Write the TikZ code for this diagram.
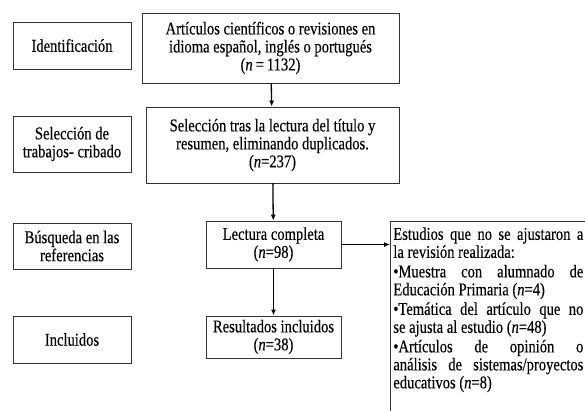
\documentclass[tikz,border=0pt]{standalone}
\usepackage{fontspec}
\setmainfont{Liberation Serif}[FakeStretch=0.81,FakeBold=0.3]
\usetikzlibrary{arrows.meta}
\setlength{\parindent}{0pt}

\begin{document}
\begin{tikzpicture}[x=1pt,y=-1pt,
  font=\fontsize{18}{18}\selectfont,
  box/.style={draw=black!80,line width=0.7pt,inner sep=0pt,align=center},
  flecha/.style={-{Latex[length=6pt,width=5pt]},line width=1.3pt}]
\useasboundingbox (0,0) rectangle (585,410);

% fases
\node (id) at (72,45.5) [box,minimum width=118,minimum height=47]{Identificación};
\node (cr) at (72,144) [box,minimum width=118,minimum height=56]{Selección de\\trabajos- cribado};
\node (bq) at (72,246) [box,minimum width=118,minimum height=46]{Búsqueda en las\\referencias};
\node (in) at (72,339.5) [box,minimum width=118,minimum height=47]{Incluidos};

% flujo
\node (n1) at (270.5,48) [box,minimum width=257,minimum height=70]{Artículos científicos o revisiones en\\idioma español, inglés o portugués\\(\textit{n}\,=\,1132)};
\node (n2) at (272.5,145) [box,minimum width=253,minimum height=76]{Selección tras la lectura del título y\\resumen, eliminando duplicados.\\(\textit{n}=237)};
\node (n3) at (273.5,244.5) [box,minimum width=135,minimum height=47]{Lectura completa\\(\textit{n}=98)};
\node (n4) at (273.5,337) [box,minimum width=135,minimum height=42]{Resultados incluidos\\(\textit{n}=38)};

% excluidos
\node (ex) at (390,221) [box,anchor=north west,inner xsep=3pt,inner ysep=6pt,text width=190,text depth=200pt,align=justify]
  {\hyphenpenalty=10000 \parskip=1.5pt
   Estudios que no se ajustaron a\linebreak la revisión realizada:\par
   •Muestra con alumnado de\linebreak Educación Primaria (\textit{n}=4)\par
   •Temática del artículo que no\linebreak se ajusta al estudio (\textit{n}=48)\par
   •Artículos de opinión o\linebreak análisis de sistemas/proyectos\linebreak educativos (\textit{n}=8)};

\draw[flecha] (n1) -- (n2);
\draw[flecha] (n2) -- (n3);
\draw[flecha] (n3) -- (n4);
\draw[flecha] (n3.east) -- (n3.east -| ex.west);

\end{tikzpicture}
\end{document}
